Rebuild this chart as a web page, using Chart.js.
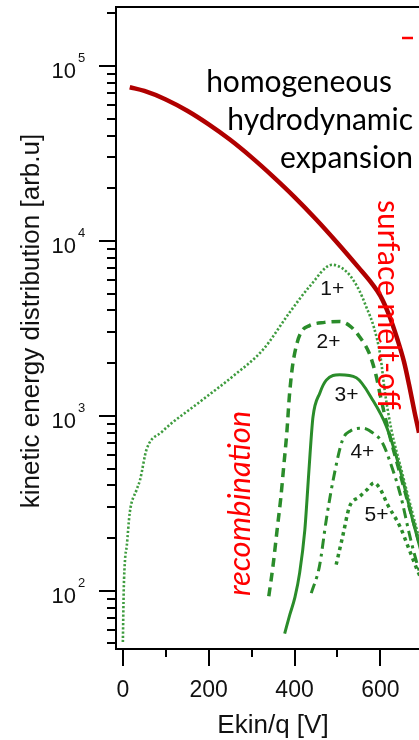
<!DOCTYPE html>
<html>
<head>
<meta charset="utf-8">
<script src="https://cdn.jsdelivr.net/npm/chart.js@4/dist/chart.umd.min.js"></script>
<style>
  html, body { margin: 0; padding: 0; background: #fff; overflow: hidden; }
  canvas { display: block; }
</style>
</head>
<body>
<canvas id="chart" width="419" height="740"></canvas>
<script>
// Kinetic energy distributions per charge state, Ekin/q [V] vs. intensity [arb.u]
const hydroX = [16, 50, 100, 150, 200, 250, 300, 350, 400, 450, 500, 550, 580, 600, 620, 640, 655, 667, 680, 690, 700];
const hydroY = [75500, 71900, 64300, 55400, 46300, 37800, 30000, 23300, 17800, 13300, 9730, 7010, 5720, 4850, 3780, 2720, 2040, 1500, 1040, 800, 600];

const ion1X = [0, 2, 5, 9, 16, 32, 40, 55, 91, 179, 256, 326, 388, 435, 488, 510, 530, 551, 567, 585, 600, 610, 625, 650, 690];
const ion1Y = [51, 100, 150, 180, 279, 378, 430, 640, 810, 1200, 1680, 2380, 3880, 5480, 7300, 7000, 6300, 5200, 4200, 3200, 2200, 1400, 850, 480, 200];

const ion2X = [340, 350, 360, 368, 375, 382, 388, 395, 404, 415, 435, 470, 505, 530, 551, 574, 590, 600, 620, 650, 690];
const ion2Y = [93, 140, 230, 340, 520, 800, 1300, 1900, 2500, 3000, 3280, 3420, 3460, 3250, 2840, 2280, 1700, 1300, 800, 430, 190];

const ion3X = [377, 389, 401, 412, 424, 429, 436, 443, 459, 474, 505, 544, 582, 614, 644, 675, 700];
const ion3Y = [57, 73, 92, 127, 223, 331, 599, 986, 1352, 1600, 1716, 1650, 1233, 870, 512, 255, 150];

const ion4X = [439, 458, 474, 490, 512, 530, 559, 585, 605, 621, 648, 667, 683, 700];
const ion4Y = [97, 138, 255, 430, 730, 820, 850, 790, 700, 560, 344, 214, 150, 110];

const ion5X = [497, 512, 528, 551, 570, 585, 600, 617, 645, 666, 684, 700];
const ion5Y = [141, 204, 302, 344, 380, 414, 380, 310, 235, 175, 135, 110];

const ionNames = ['1+', '2+', '3+', '4+', '5+'];
const xMajorTicks = [0, 200, 400, 600];
const xMinorTicks = [100, 300, 500];
const yDecadeExponents = [2, 3, 4, 5];

// where the charge-state names sit, in data coordinates
const ionLabelAnchors = [
  { x: 488, y: 5320 },
  { x: 479, y: 2650 },
  { x: 521, y: 1318 },
  { x: 558, y: 622 },
  { x: 591, y: 272 }
];

const toPoints = (xs, ys) => xs.map((v, i) => ({ x: v, y: ys[i] }));

const GREEN = '#2a8c2a';
const GREEN_LIGHT = '#3f9c3f';
const DARK_RED = '#b00000';

const datasets = [
  { label: 'hydrodynamic', data: toPoints(hydroX, hydroY), borderColor: DARK_RED, borderWidth: 4.5 },
  { label: ionNames[0], data: toPoints(ion1X, ion1Y), borderColor: GREEN_LIGHT, borderWidth: 2.6, borderDash: [2.2, 2] },
  { label: ionNames[1], data: toPoints(ion2X, ion2Y), borderColor: GREEN, borderWidth: 3.5, borderDash: [9, 6] },
  { label: ionNames[2], data: toPoints(ion3X, ion3Y), borderColor: GREEN, borderWidth: 3 },
  { label: ionNames[3], data: toPoints(ion4X, ion4Y), borderColor: GREEN, borderWidth: 3, borderDash: [10, 5, 3, 5] },
  { label: ionNames[4], data: toPoints(ion5X, ion5Y), borderColor: GREEN, borderWidth: 3.5, borderDash: [3.5, 4] }
].map(d => Object.assign({
  pointRadius: 0,
  fill: false,
  cubicInterpolationMode: 'monotone',
  borderCapStyle: 'butt'
}, d));

const SANS = '"Liberation Sans", Arial, sans-serif';
const ANNOT = 'Lato, "Open Sans", sans-serif';

const decorations = {
  id: 'decorations',
  afterDraw(chart) {
    const { ctx, chartArea: a, scales: { x, y } } = chart;
    ctx.save();

    // frame: top, left and bottom axis lines
    ctx.strokeStyle = '#000';
    ctx.lineWidth = 2;
    ctx.beginPath();
    ctx.moveTo(chart.width + 2, a.top);
    ctx.lineTo(a.left, a.top);
    ctx.lineTo(a.left, a.bottom);
    ctx.lineTo(chart.width + 2, a.bottom);
    ctx.stroke();

    // y ticks: decades long, 2..9 short
    ctx.beginPath();
    for (let e = 1; e <= 5; e++) {
      for (let m = 1; m <= 9; m++) {
        const v = m * Math.pow(10, e);
        if (v < y.min || v > y.max) continue;
        const py = Math.round(y.getPixelForValue(v));
        const len = m === 1 ? 17 : 9;
        ctx.moveTo(a.left - len, py);
        ctx.lineTo(a.left, py);
      }
    }
    // x ticks
    xMajorTicks.forEach(v => {
      const px = Math.round(x.getPixelForValue(v));
      ctx.moveTo(px, a.bottom);
      ctx.lineTo(px, a.bottom + 17);
    });
    xMinorTicks.forEach(v => {
      const px = Math.round(x.getPixelForValue(v));
      ctx.moveTo(px, a.bottom);
      ctx.lineTo(px, a.bottom + 8);
    });
    ctx.stroke();

    // tick labels
    ctx.fillStyle = '#111';
    ctx.textBaseline = 'middle';
    ctx.font = '23px ' + SANS;
    ctx.textAlign = 'center';
    xMajorTicks.forEach(v => ctx.fillText(String(v), x.getPixelForValue(v), a.bottom + 42));

    yDecadeExponents.forEach(e => {
      const py = y.getPixelForValue(Math.pow(10, e));
      ctx.font = '22px ' + SANS;
      ctx.textAlign = 'right';
      ctx.fillText('10', 76, py + 6);
      ctx.font = '13px ' + SANS;
      ctx.textAlign = 'left';
      ctx.fillText(String(e), 78, py - 7);
    });

    // axis titles
    ctx.font = '26px ' + SANS;
    ctx.textAlign = 'center';
    ctx.textBaseline = 'alphabetic';
    ctx.fillText('Ekin/q [V]', 273, 733);
    ctx.save();
    ctx.translate(39, 321);
    ctx.rotate(-Math.PI / 2);
    ctx.fillText('kinetic energy distribution [arb.u]', 0, 0);
    ctx.restore();

    // charge-state names
    ctx.font = '21px ' + SANS;
    ctx.textAlign = 'center';
    ctx.textBaseline = 'middle';
    ctx.fillStyle = '#111';
    ionLabelAnchors.forEach((p, i) => {
      ctx.fillText(ionNames[i], x.getPixelForValue(p.x), y.getPixelForValue(p.y));
    });

    // model annotations
    ctx.fillStyle = '#000';
    ctx.font = '30px ' + ANNOT;
    ctx.textBaseline = 'alphabetic';
    ctx.textAlign = 'right';
    ctx.fillText('homogeneous', 392, 92);
    ctx.fillText('hydrodynamic', 413, 130);
    ctx.fillText('expansion', 413, 168);

    ctx.fillStyle = '#ff0000';
    ctx.save();
    ctx.translate(378, 200);
    ctx.rotate(Math.PI / 2);
    ctx.textAlign = 'left';
    ctx.font = '30px ' + ANNOT;
    ctx.fillText('surface melt-off', 0, 0);
    ctx.restore();

    ctx.save();
    ctx.translate(250, 596);
    ctx.rotate(-Math.PI / 2);
    ctx.textAlign = 'left';
    ctx.font = 'italic 31px ' + ANNOT;
    ctx.fillText('recombination', 0, 0);
    ctx.restore();

    // red dash at the upper right
    ctx.strokeStyle = '#ff0000';
    ctx.lineWidth = 2.5;
    ctx.beginPath();
    ctx.moveTo(402, 38);
    ctx.lineTo(413, 38);
    ctx.stroke();

    ctx.restore();
  }
};

new Chart(document.getElementById('chart'), {
  type: 'line',
  data: { datasets },
  options: {
    responsive: false,
    animation: false,
    events: [],
    layout: { padding: { top: 7, right: 0, bottom: 0, left: 0 } },
    plugins: { legend: { display: false }, tooltip: { enabled: false }, title: { display: false } },
    scales: {
      x: {
        type: 'linear',
        min: -16,
        max: 690,
        grid: { display: false },
        border: { display: false },
        ticks: { display: false },
        afterFit: s => { s.height = 91; }
      },
      y: {
        type: 'logarithmic',
        min: 46.5,
        max: 217000,
        grid: { display: false },
        border: { display: false },
        ticks: { display: false },
        afterFit: s => { s.width = 116; }
      }
    }
  },
  plugins: [decorations]
});
</script>
</body>
</html>
